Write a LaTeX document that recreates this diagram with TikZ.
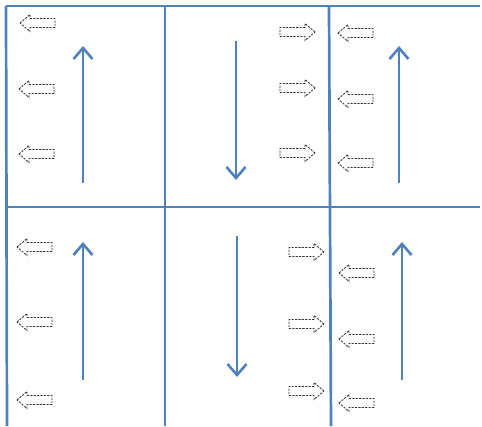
\documentclass[tikz,border=0pt]{standalone}
\usetikzlibrary{arrows.meta}
\definecolor{gridblue}{RGB}{79,129,189}
\tikzset{
  gridline/.style={draw=gridblue, line width=2.7pt},
  flow/.style={draw=gridblue, line width=2.6pt, -{Straight Barb[length=11pt,width=19pt,line width=2.6pt]}},
  blockarr/.style={draw=black!80, line width=0.85pt, dash pattern=on 2.2pt off 1.2pt, fill=white},
  pics/leftarr/.style={code={
    \path[blockarr] (0,0) -- (10,-8.5) -- (10,-4.5) -- (35,-4.5) -- (35,4.5) -- (10,4.5) -- (10,8.5) -- cycle;
  }},
  pics/rightarr/.style={code={
    \path[blockarr] (0,0) -- (-10,-8.5) -- (-10,-4.5) -- (-35,-4.5) -- (-35,4.5) -- (-10,4.5) -- (-10,8.5) -- cycle;
  }}
}
\begin{document}
\begin{tikzpicture}[x=1pt,y=-1pt]
\useasboundingbox (0,0) rectangle (482,426);
% grid
\coordinate (tl) at (6,6);
\coordinate (tr) at (480,6);
\coordinate (ml) at (6,207);
\coordinate (mr) at (480,207);
\coordinate (bl) at (7,426);
\coordinate (v1t) at (165,6);
\coordinate (v1b) at (165,426);
\coordinate (v2t) at (329,6);
\coordinate (v2b) at (331,426);
\draw[gridline] (tl) -- (tr);
\draw[gridline] (ml) -- (mr);
\draw[gridline] (tl) -- (bl);
\draw[gridline] (v1t) -- (v1b);
\draw[gridline] (v2t) -- (v2b);
% blue flow arrows
\coordinate (a1s) at (83,183); \coordinate (a1e) at (83,46);
\coordinate (a2s) at (236,41); \coordinate (a2e) at (236,180);
\coordinate (a3s) at (399,183); \coordinate (a3e) at (399,46);
\coordinate (a4s) at (83,380); \coordinate (a4e) at (83,242);
\coordinate (a5s) at (237,236); \coordinate (a5e) at (237,377);
\coordinate (a6s) at (402,380); \coordinate (a6e) at (402,242);
\draw[flow] (a1s) -- (a1e);
\draw[flow] (a2s) -- (a2e);
\draw[flow] (a3s) -- (a3e);
\draw[flow] (a4s) -- (a4e);
\draw[flow] (a5s) -- (a5e);
\draw[flow] (a6s) -- (a6e);
% dashed block arrows
\pic at (20,23) {leftarr};
\pic at (19,89) {leftarr};
\pic at (19,154) {leftarr};
\pic at (315,32) {rightarr};
\pic at (315,88) {rightarr};
\pic at (315,153) {rightarr};
\pic at (338,33) {leftarr};
\pic at (338,99) {leftarr};
\pic at (338,163) {leftarr};
\pic at (17,247) {leftarr};
\pic at (17,322) {leftarr};
\pic at (17,400) {leftarr};
\pic at (324,252) {rightarr};
\pic at (324,324) {rightarr};
\pic at (324,391) {rightarr};
\pic at (339,273) {leftarr};
\pic at (339,339) {leftarr};
\pic at (339,403) {leftarr};
\end{tikzpicture}
\end{document}
